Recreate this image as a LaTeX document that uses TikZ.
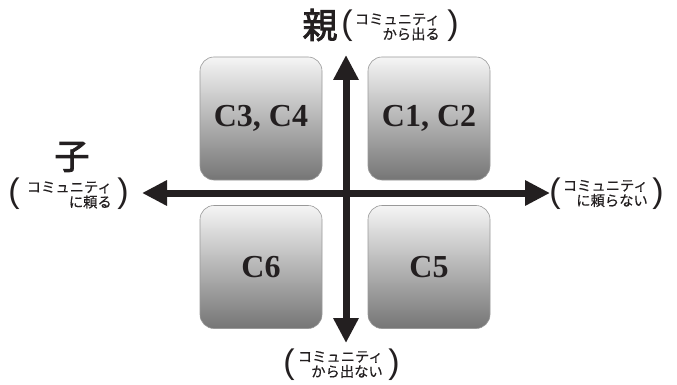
\documentclass[tikz,border=0pt]{standalone}
\usepackage{fontspec}
\setmainfont{Liberation Serif}
\newfontfamily\cjk[FakeBold=0.4]{Noto Sans CJK JP}
\newfontfamily\cjkb[FakeBold=2.5]{Noto Sans CJK JP}
\newfontfamily\parfont{Liberation Sans}
\usetikzlibrary{arrows.meta}
\definecolor{ink}{HTML}{231F20}
\tikzset{
  quad/.style={draw=black!40, line width=0.6pt, rounded corners=14pt,
    top color=black!4, bottom color=black!54, shading angle=0,
    minimum width=122pt, minimum height=123pt, inner sep=0pt,
    font=\fontsize{32}{32}\selectfont\bfseries, text=ink},
  axis/.style={line width=7pt, draw=ink,
    {Triangle[length=25pt,width=24pt]}-{Triangle[length=25pt,width=24pt]}},
  lbl/.style={font=\fontsize{14.3}{15}\selectfont\cjk, align=right, inner sep=0pt, text=ink},
  par/.style={font=\fontsize{34}{34}\selectfont\parfont, inner sep=0pt, text=ink},
  big/.style={font=\fontsize{35}{35}\selectfont\cjkb, inner sep=0pt, text=ink}
}
\begin{document}
\begin{tikzpicture}[x=1pt,y=-1pt]
\useasboundingbox (0,0) rectangle (677,385);
\node[quad] (c34) at (261,118.5) {C3, C4};
\node[quad] (c12) at (429,118.5) {C1, C2};
\node[quad] (c6)  at (261,267) {C6};
\node[quad] (c5)  at (429,267) {C5};
\coordinate (top) at (346,55);
\coordinate (bot) at (346,343);
\coordinate (lft) at (142,193);
\coordinate (rgt) at (550,193);
\draw[axis] (bot) -- (top);
\draw[axis] (lft) -- (rgt);
% top label
\node[big] (oya) at (320,25) {親};
\node[par] (tpl) at (347,26) {(};
\node[lbl, anchor=east] (tl) at (440,27) {コミュニティ\\から出る};
\node[par] (tpr) at (453,26) {)};
% left label
\node[big] (ko) at (72,157) {子};
\node[par] (lpl) at (14,194) {(};
\node[lbl, anchor=east] (ll) at (112,195) {コミュニティ\\に頼る};
\node[par] (lpr) at (123,194) {)};
% right label
\node[par] (rpl) at (555,194) {(};
\node[lbl, anchor=east] (rl) at (648,193.5) {コミュニティ\\に頼らない};
\node[par] (rpr) at (658,194) {)};
% bottom label
\node[par] (bpl) at (289,365) {(};
\node[lbl, anchor=east] (bl) at (383,364.5) {コミュニティ\\から出ない};
\node[par] (bpr) at (394,365) {)};
\end{tikzpicture}
\end{document}
